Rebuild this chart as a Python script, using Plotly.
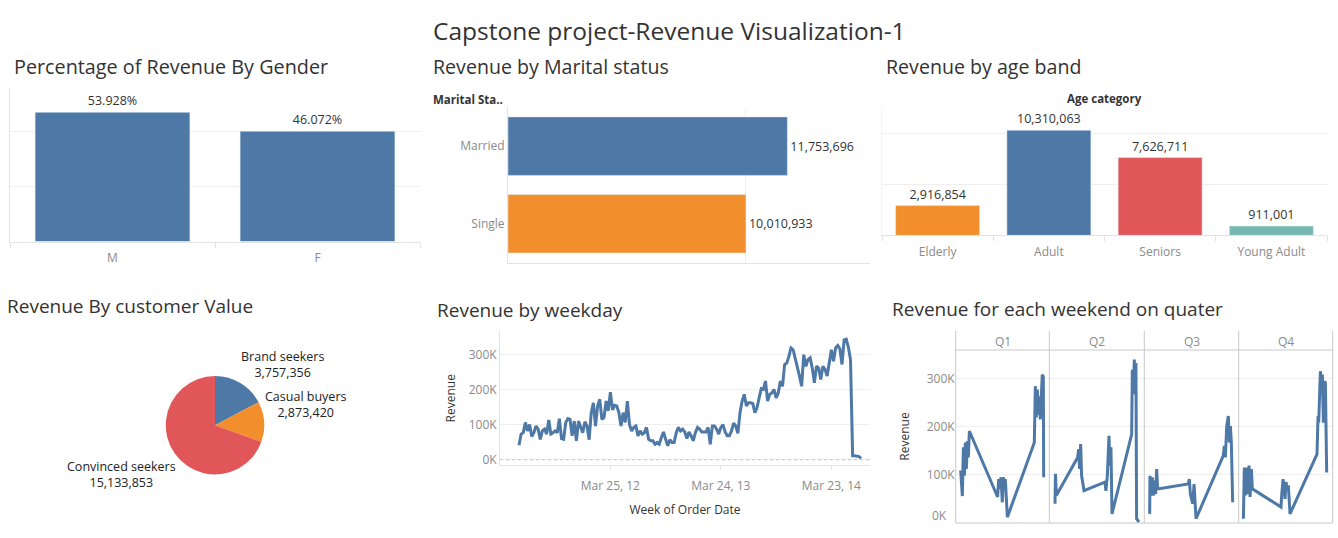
import plotly.graph_objects as go
import pandas as pd

# ---------------- data ----------------
main_title = "Capstone project-Revenue Visualization-1"

gender = ["M", "F"]
gender_pct = [53.928, 46.072]
total_revenue = 21764629

marital = ["Married", "Single"]
marital_rev = [11753696, 10010933]

age_cat = ["Elderly", "Adult", "Seniors", "Young Adult"]
age_rev = [2916854, 10310063, 7626711, 911001]

cust_seg = ["Brand seekers", "Casual buyers", "Convinced seekers"]
cust_rev = [3757356, 2873420, 15133853]

week_start = "2011-05-29"
weekly_rev_k = [
    41, 73, 77, 106, 82, 100, 66, 77, 96, 87,
    58, 82, 87, 73, 113, 73, 77, 82, 77, 117,
    60, 58, 106, 117, 115, 68, 110, 54, 110, 92,
    77, 108, 96, 57, 134, 162, 96, 153, 172, 115,
    120, 167, 139, 192, 142, 155, 153, 134, 96, 134,
    106, 167, 100, 82, 92, 96, 68, 82, 73, 77,
    92, 58, 54, 54, 44, 49, 44, 63, 79, 58,
    40, 57, 49, 49, 77, 92, 82, 87, 79, 60, 79,
    68, 54, 77, 92, 87, 79, 79, 79, 92, 44,
    96, 96, 87, 73, 92, 100, 79, 68, 68, 82,
    104, 96, 75, 134, 167, 186, 153, 162, 162, 160,
    134, 148, 176, 202, 200, 224, 167, 186, 190, 200,
    176, 190, 224, 209, 271, 275, 294, 318, 313, 290,
    266, 238, 209, 299, 266, 285, 290, 261, 219, 266,
    261, 228, 266, 257, 238, 271, 313, 280, 318, 325,
    315, 271, 341, 343, 320, 285,
    11, 11, 11, 9, 4,
]
week_ticks = ["2012-03-25", "2013-03-24", "2014-03-23"]
week_tick_text = ["Mar 25, 12", "Mar 24, 13", "Mar 23, 14"]

quarters = ["Q1", "Q2", "Q3", "Q4"]
q1_pos = [5.3, 7.1, 8.2, 9.3, 10.3, 11.4, 12.5, 13.5, 14.6, 44.8, 45.9, 47.3, 48.4, 49.8,
          50.9, 52.0, 53.0, 54.1, 55.2, 84.0, 85.1, 86.1, 87.2, 88.3, 89.3, 90.4, 91.5,
          92.5, 93.6, 94.0]
q1_rev_k = [109, 56, 157, 98, 167, 112, 170, 136, 191, 54, 91, 71, 95, 43,
            95, 85, 91, 50, 12, 167, 284, 219, 277, 225, 263, 215, 270,
            308, 304, 95]
q2_pos = [6.0, 6.5, 7.4, 29.8, 30.9, 31.9, 33.0, 34.0, 35.1, 36.5, 58.6, 59.6, 61.1,
          62.8, 63.9, 64.9, 66.0, 86.7, 87.4, 88.4, 89.5, 90.5, 91.2, 91.9, 94.4]
q2_rev_k = [40, 102, 57, 136, 153, 112, 164, 98, 85, 67, 85, 67, 98,
            181, 119, 157, 19, 184, 318, 270, 339, 267, 332, 9, 2]
q3_pos = [5.7, 6.0, 7.1, 8.5, 9.5, 10.6, 12.0, 13.1, 14.1, 15.5, 46.6, 47.7, 48.8,
          49.8, 51.2, 52.7, 53.7, 54.8, 83.7, 84.8, 85.9, 87.3, 89.0, 90.1, 91.2,
          92.2, 93.6]
q3_rev_k = [19, 98, 57, 95, 57, 88, 60, 112, 71, 71, 81, 91, 60,
            50, 40, 81, 43, 9, 140, 160, 136, 201, 222, 167, 201,
            167, 43]
q4_pos = [5.0, 6.0, 7.1, 8.2, 9.6, 11.0, 12.1, 13.5, 14.5, 45.0, 45.7, 47.2, 48.2,
          49.3, 50.4, 51.4, 52.8, 54.6, 83.3, 84.4, 85.1, 85.8, 86.9, 87.9, 89.0,
          90.1, 91.1, 92.2, 93.6]
q4_rev_k = [9, 115, 57, 115, 60, 119, 54, 112, 71, 33, 57, 91, 78,
            50, 85, 71, 78, 19, 143, 222, 208, 270, 315, 284, 308,
            208, 294, 291, 105]

# ---------------- style ----------------
W, H = 1338, 530
BLUE, ORANGE, RED, TEAL = "#4e79a7", "#f28e2b", "#e15759", "#76b7b2"
FONT = "Open Sans"
DARK = "#333333"
GRAY = "#8a8a8a"
GRID = "#efefef"
LINE = "#e3e3e3"
FRAME = "#c8c8c8"


def fx(p):
    return p / W


def fy(p):
    return 1 - p / H


fig = go.Figure()

# Panel 1: gender
fig.add_trace(go.Bar(
    x=gender, y=gender_pct, xaxis="x", yaxis="y", marker_color=BLUE,
    text=[f"{v:.3f}%" for v in gender_pct], textposition="outside",
    textfont=dict(size=12.5, color=DARK), cliponaxis=False, showlegend=False))

# Panel 2: marital
fig.add_trace(go.Bar(
    x=marital_rev, y=marital, orientation="h", xaxis="x2", yaxis="y2",
    marker_color=[BLUE, ORANGE], text=[f"{v:,}" for v in marital_rev],
    textposition="outside", textfont=dict(size=12.5, color=DARK),
    cliponaxis=False, showlegend=False))

# Panel 3: age band
fig.add_trace(go.Bar(
    x=age_cat, y=age_rev, xaxis="x3", yaxis="y3",
    marker_color=[ORANGE, BLUE, RED, TEAL], text=[f"{v:,}" for v in age_rev],
    textposition="outside", textfont=dict(size=12.5, color=DARK),
    cliponaxis=False, showlegend=False))

# Panel 4: pie
pie_cx, pie_cy, pie_r = 215, 427.7, 49.5
fig.add_trace(go.Pie(
    labels=cust_seg, values=cust_rev, sort=False, direction="clockwise",
    rotation=0, textinfo="none", marker=dict(colors=[BLUE, ORANGE, RED], line=dict(width=0)),
    domain=dict(x=[fx(pie_cx - pie_r), fx(pie_cx + pie_r)],
                y=[fy(pie_cy + pie_r), fy(pie_cy - pie_r)]),
    showlegend=False))

# Panel 5: weekly line
week_dates = pd.date_range(week_start, periods=len(weekly_rev_k), freq="7D")
fig.add_trace(go.Scatter(
    x=week_dates, y=[v * 1000 for v in weekly_rev_k], mode="lines",
    line=dict(color=BLUE, width=3), xaxis="x5", yaxis="y5", showlegend=False))

# Panel 6: quarters
q_pos = [q1_pos, q2_pos, q3_pos, q4_pos]
q_rev = [q1_rev_k, q2_rev_k, q3_rev_k, q4_rev_k]
for k in range(4):
    fig.add_trace(go.Scatter(
        x=q_pos[k], y=[v * 1000 for v in q_rev[k]], mode="lines",
        line=dict(color=BLUE, width=3), xaxis=f"x{6 + k}", yaxis=f"y{6 + k}",
        showlegend=False, cliponaxis=False))

ax_common = dict(zeroline=False, fixedrange=True)
tickfont = dict(size=12, color=GRAY, family=FONT)

layout = dict(
    width=W, height=H, margin=dict(l=0, r=0, t=0, b=0),
    paper_bgcolor="white", plot_bgcolor="white",
    font=dict(family=FONT, color=DARK), bargap=0.245, showlegend=False,
)

# axes panel 1
layout["xaxis"] = dict(domain=[fx(10), fx(420)], anchor="y", showline=True, linecolor=LINE,
                       tickson="boundaries", ticks="outside", ticklen=5, tickcolor=LINE,
                       ticklabelstandoff=5, tickfont=tickfont, showgrid=False, **ax_common)
layout["yaxis"] = dict(domain=[fy(243), fy(88)], anchor="x", range=[0, 64.3],
                       tickvals=[5e6 / total_revenue * 100, 10e6 / total_revenue * 100],
                       showticklabels=False, gridcolor=GRID, showline=True, linecolor=LINE,
                       **ax_common)
# panel 2
layout["xaxis2"] = dict(domain=[fx(508), fx(870)], anchor="y2", range=[0, 15.23e6],
                        tickvals=[10e6], showticklabels=False, gridcolor=GRID,
                        showline=True, linecolor=LINE, **ax_common)
layout["yaxis2"] = dict(domain=[fy(264), fy(108)], anchor="x2", categoryorder="array",
                        categoryarray=marital, autorange="reversed", showline=True,
                        linecolor=LINE, tickfont=tickfont, showgrid=False, **ax_common)
# panel 3
layout["xaxis3"] = dict(domain=[fx(882), fx(1327)], anchor="y3", showline=True, linecolor=LINE,
                        tickson="boundaries", ticks="outside", ticklen=5, tickcolor=LINE,
                        ticklabelstandoff=5, tickfont=tickfont, showgrid=False, **ax_common)
layout["yaxis3"] = dict(domain=[fy(236.7), fy(108)], anchor="x3", range=[0, 12.55e6],
                        tickvals=[5e6, 10e6], showticklabels=False, gridcolor=GRID,
                        showline=True, linecolor="#f3f3f3", **ax_common)
# panel 5
x0 = week_dates[0]
day_px = 2.125 / 7
layout["xaxis5"] = dict(domain=[fx(500), fx(870)], anchor="y5", type="date",
                        range=[x0 - pd.Timedelta(days=(519 - 500) / day_px),
                               x0 + pd.Timedelta(days=(870 - 519) / day_px)],
                        tickvals=week_ticks, ticktext=week_tick_text, ticks="outside",
                        ticklen=4, tickcolor=LINE, ticklabelstandoff=5, tickfont=tickfont,
                        showgrid=False, showline=True, linecolor=LINE,
                        title=dict(text="Week of Order Date", font=dict(size=12, color=DARK),
                                   standoff=12), **ax_common)
layout["yaxis5"] = dict(domain=[fy(468), fy(333)], anchor="x5", range=[-16e3, 366e3],
                        tickvals=[0, 1e5, 2e5, 3e5], ticktext=["0K", "100K", "200K", "300K"],
                        tickfont=tickfont, gridcolor=GRID, showline=True, linecolor=LINE,
                        title=dict(text="Revenue", font=dict(size=12, color=DARK), standoff=10),
                        **ax_common)
# panel 6
q_edges = [955.7, 1049.3, 1144.3, 1238.7, 1332.7]
for k in range(4):
    n = 6 + k
    layout[f"xaxis{n}"] = dict(domain=[fx(q_edges[k]), fx(q_edges[k + 1])], anchor=f"y{n}",
                               range=[0, 100], showticklabels=False, showgrid=False,
                               showline=False, **ax_common)
    yd = dict(domain=[fy(526), fy(352)], anchor=f"x{n}", range=[0, 359e3],
              tickvals=[0, 1e5, 2e5, 3e5], ticktext=["", "100K", "200K", "300K"],
              tickfont=tickfont, gridcolor=GRID, showline=False, showticklabels=(k == 0),
              **ax_common)
    if k == 0:
        yd["title"] = dict(text="Revenue", font=dict(size=12, color=DARK), standoff=14)
    layout[f"yaxis{n}"] = yd

fig.update_layout(**layout)

# shapes
shapes = [dict(type="line", xref="x5 domain", yref="y5", x0=0, x1=1, y0=0, y1=0,
               line=dict(color="#c4c4c4", width=1, dash="dot"))]
for e in q_edges:
    shapes.append(dict(type="line", xref="paper", yref="paper", x0=fx(e), x1=fx(e),
                       y0=fy(526), y1=fy(332.7), line=dict(color=FRAME, width=1)))
for yy in (352, 526):
    shapes.append(dict(type="line", xref="paper", yref="paper", x0=fx(q_edges[0]),
                       x1=fx(q_edges[-1]), y0=fy(yy), y1=fy(yy), line=dict(color=FRAME, width=1)))
fig.update_layout(shapes=shapes)

# annotations
ann = []


def text_at(t, x, y, size, color=DARK, xanchor="left", bold=False):
    ann.append(dict(text=(f"<b>{t}</b>" if bold else t), x=fx(x), y=fy(y), xref="paper",
                    yref="paper", showarrow=False, xanchor=xanchor, yanchor="middle",
                    font=dict(size=size, color=color, family=FONT)))


text_at(main_title, 669, 31, 24.5, xanchor="center")
text_at("Percentage of Revenue By Gender", 12, 67, 19.8)
text_at("Revenue by Marital status", 431, 67, 19.6)
text_at("Revenue by age band", 884, 67, 19.6)
text_at("Revenue By customer Value", 5, 308, 19)
text_at("Revenue by weekday", 435, 312, 19)
text_at("Revenue for each weekend on quater", 890, 311, 19)
text_at("Marital Sta..", 431, 100, 11.5, bold=True)
text_at("Age category", 1104, 99, 11.5, xanchor="center", bold=True)

pie_label_pos = [(282, 367), (305, 407), (121, 477)]
for name, val, (px, py) in zip(cust_seg, cust_rev, pie_label_pos):
    text_at(f"{name}<br>{val:,}", px, py, 12.5, color="#222222", xanchor="center")

for k, q in enumerate(quarters):
    text_at(q, (q_edges[k] + q_edges[k + 1]) / 2, 343, 12, color=GRAY, xanchor="center")

# zero label of the quarter panes sits just above the pane's bottom edge
text_at("0K", 939, 518, 12, color=GRAY, xanchor="center")

fig.update_layout(annotations=ann)
fig.write_html("out.html")
